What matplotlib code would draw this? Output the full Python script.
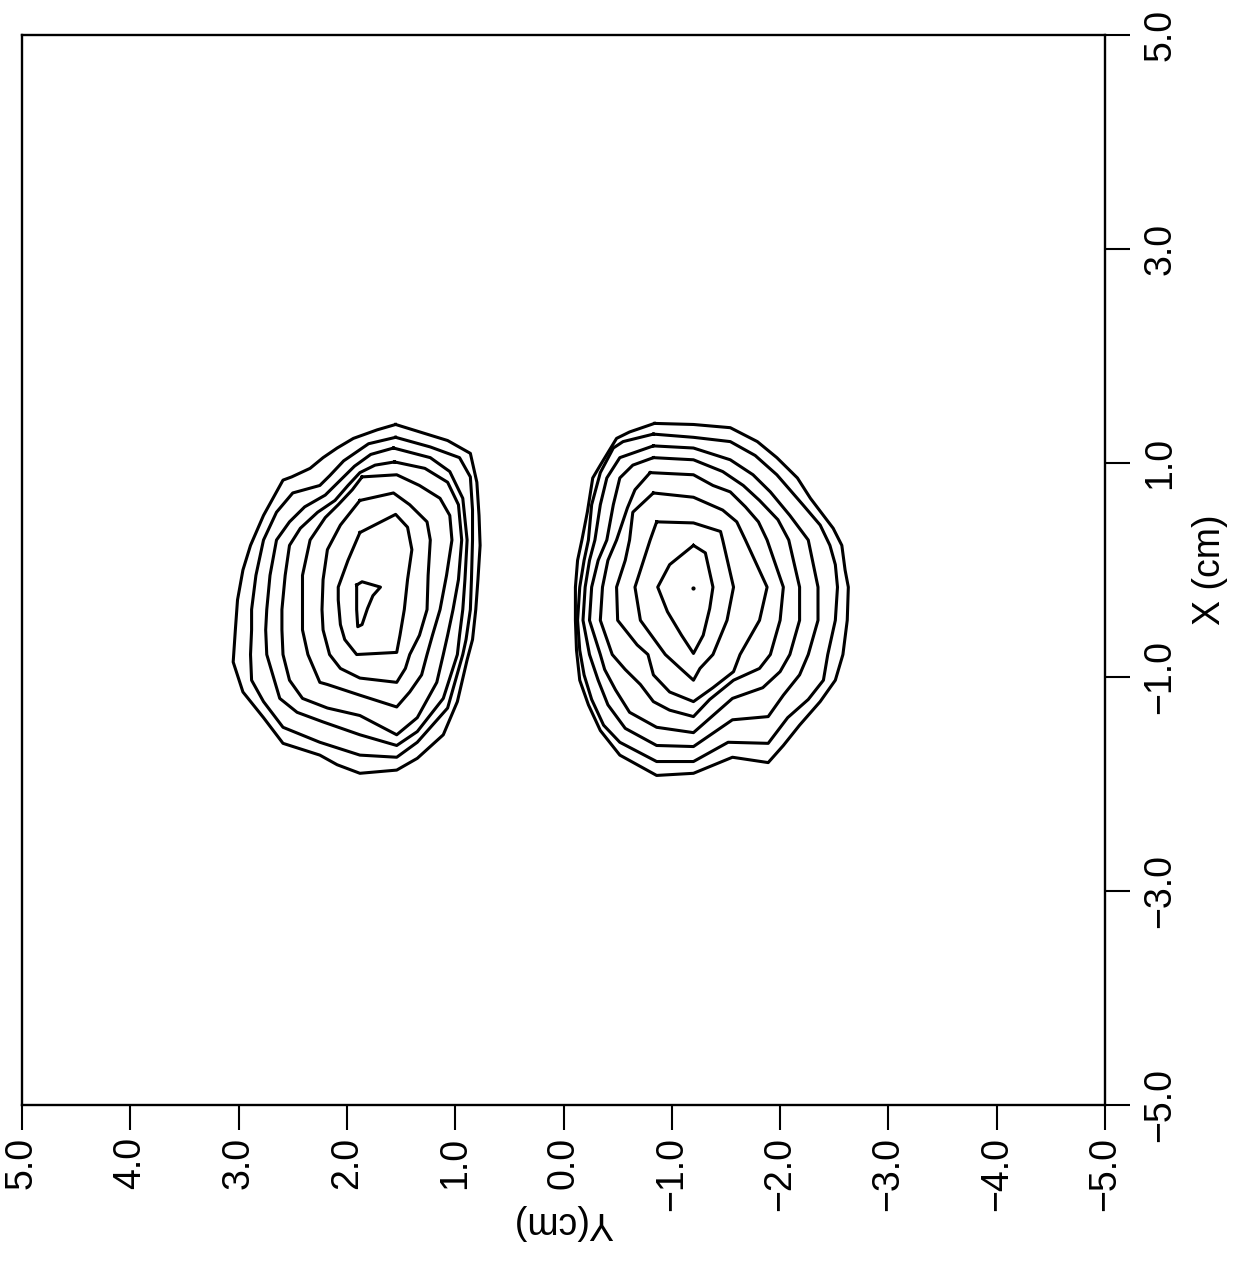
import matplotlib.pyplot as plt

# contour traces, (Y cm, X cm) pairs
left_c1 = [(1.55, 1.36), (1.07, 1.21), (0.86, 1.09), (0.80, 0.82), (0.78, 0.51), (0.77, 0.23),
           (0.79, -0.09), (0.81, -0.37), (0.84, -0.65), (0.89, -0.84), (0.98, -1.23), (1.11, -1.54),
           (1.35, -1.76), (1.54, -1.87), (1.88, -1.90), (2.09, -1.82), (2.25, -1.73), (2.59, -1.62),
           (2.77, -1.38), (2.96, -1.14), (3.05, -0.86), (3.03, -0.56), (3.01, -0.28), (2.96, 0.00),
           (2.89, 0.23), (2.77, 0.51), (2.59, 0.84), (2.51, 0.87), (2.34, 0.95), (2.22, 1.05),
           (2.09, 1.14), (1.94, 1.23), (1.72, 1.31)]
left_c2 = [(1.55, 1.24), (1.23, 1.15), (0.96, 1.05), (0.86, 0.87), (0.84, 0.56), (0.84, 0.28),
           (0.85, -0.09), (0.86, -0.37), (0.90, -0.65), (0.93, -0.79), (1.07, -1.29), (1.35, -1.61),
           (1.54, -1.75), (1.88, -1.73), (2.25, -1.61), (2.59, -1.47), (2.77, -1.23), (2.88, -1.03),
           (2.89, -0.79), (2.88, -0.56), (2.88, -0.37), (2.84, -0.05), (2.77, 0.28), (2.65, 0.54),
           (2.50, 0.72), (2.25, 0.79), (2.16, 0.88), (2.03, 1.02), (1.80, 1.18)]
left_c3 = [(1.57, 1.14), (1.23, 1.05), (1.05, 0.92), (0.93, 0.67), (0.89, 0.28), (0.91, -0.09),
           (0.93, -0.37), (0.96, -0.61), (0.98, -0.79), (1.11, -1.20), (1.35, -1.51), (1.54, -1.64),
           (1.88, -1.54), (2.22, -1.42), (2.46, -1.33), (2.62, -1.20), (2.74, -0.79), (2.75, -0.56),
           (2.74, -0.37), (2.71, -0.05), (2.65, 0.28), (2.53, 0.45), (2.39, 0.59), (2.20, 0.70),
           (2.06, 0.84), (1.93, 0.97), (1.78, 1.08)]
left_c4 = [(1.56, 1.01), (1.28, 0.95), (1.07, 0.82), (0.97, 0.61), (0.94, 0.28), (0.97, -0.09),
           (1.02, -0.37), (1.07, -0.61), (1.11, -0.79), (1.17, -1.05), (1.35, -1.38), (1.54, -1.54),
           (1.88, -1.36), (2.18, -1.29), (2.41, -1.20), (2.53, -1.03), (2.59, -0.79), (2.60, -0.56),
           (2.60, -0.37), (2.57, -0.05), (2.53, 0.23), (2.43, 0.39), (2.27, 0.54), (2.11, 0.65),
           (1.99, 0.79), (1.88, 0.91), (1.74, 0.98)]
left_c5 = [(1.86, 0.87), (1.54, 0.89), (1.33, 0.79), (1.14, 0.67), (1.05, 0.51), (1.03, 0.28),
           (1.08, -0.05), (1.14, -0.37), (1.21, -0.61), (1.26, -0.79), (1.31, -0.98), (1.42, -1.14),
           (1.54, -1.28), (1.88, -1.17), (2.18, -1.07), (2.25, -1.05), (2.36, -0.79), (2.41, -0.56),
           (2.41, -0.37), (2.41, -0.05), (2.34, 0.28), (2.20, 0.49), (2.08, 0.61), (1.95, 0.75)]
left_c6 = [(1.88, 0.65), (1.57, 0.72), (1.42, 0.61), (1.26, 0.45), (1.23, 0.28), (1.25, -0.05),
           (1.26, -0.37), (1.33, -0.61), (1.42, -0.79), (1.46, -0.92), (1.54, -1.05), (1.88, -1.01),
           (2.06, -0.92), (2.16, -0.79), (2.22, -0.56), (2.23, -0.37), (2.22, -0.09), (2.18, 0.19),
           (2.06, 0.42)]
left_c7 = [(1.88, 0.35), (1.55, 0.52), (1.44, 0.40), (1.40, 0.19), (1.44, -0.09), (1.47, -0.37),
           (1.51, -0.61), (1.54, -0.77), (1.91, -0.79), (2.02, -0.65), (2.06, -0.51), (2.08, -0.28),
           (2.08, -0.16), (1.99, 0.09)]
left_c8 = [(1.91, -0.14), (1.86, -0.11), (1.69, -0.16), (1.76, -0.24), (1.81, -0.36), (1.86, -0.51),
           (1.90, -0.53), (1.91, -0.37)]

right_c1 = [(-0.84, 1.37), (-1.20, 1.36), (-1.54, 1.33), (-1.79, 1.20), (-1.97, 1.05), (-2.16, 0.86),
            (-2.28, 0.67), (-2.49, 0.39), (-2.57, 0.23), (-2.60, 0.00), (-2.63, -0.16), (-2.62, -0.47),
            (-2.58, -0.79), (-2.51, -1.03), (-2.37, -1.23), (-2.18, -1.45), (-2.03, -1.64), (-1.89, -1.80),
            (-1.56, -1.75), (-1.20, -1.90), (-0.86, -1.92), (-0.52, -1.73), (-0.34, -1.50), (-0.23, -1.26),
            (-0.15, -1.03), (-0.12, -0.75), (-0.11, -0.47), (-0.11, -0.16), (-0.13, 0.09), (-0.17, 0.28),
            (-0.22, 0.54), (-0.27, 0.86), (-0.34, 0.98), (-0.49, 1.23), (-0.61, 1.29)]
right_c2 = [(-0.83, 1.27), (-1.20, 1.24), (-1.54, 1.20), (-1.77, 1.07), (-1.97, 0.89), (-2.21, 0.61),
            (-2.37, 0.42), (-2.46, 0.23), (-2.51, 0.05), (-2.53, -0.16), (-2.51, -0.47), (-2.44, -0.79),
            (-2.40, -1.03), (-2.26, -1.21), (-2.07, -1.38), (-1.89, -1.62), (-1.52, -1.61), (-1.20, -1.79),
            (-0.86, -1.79), (-0.52, -1.61), (-0.37, -1.45), (-0.26, -1.21), (-0.19, -0.98), (-0.15, -0.75),
            (-0.13, -0.47), (-0.15, -0.16), (-0.19, 0.09), (-0.23, 0.28), (-0.26, 0.61), (-0.34, 0.91),
            (-0.46, 1.14), (-0.55, 1.20)]
right_c3 = [(-0.83, 1.16), (-1.20, 1.14), (-1.54, 1.03), (-1.75, 0.89), (-1.91, 0.73), (-2.09, 0.51),
            (-2.26, 0.28), (-2.35, -0.16), (-2.35, -0.47), (-2.26, -0.79), (-2.18, -0.98), (-2.03, -1.17),
            (-1.89, -1.37), (-1.56, -1.40), (-1.20, -1.65), (-0.86, -1.64), (-0.57, -1.48), (-0.41, -1.26),
            (-0.32, -1.03), (-0.24, -0.79), (-0.18, -0.47), (-0.20, -0.16), (-0.24, 0.09), (-0.29, 0.28),
            (-0.34, 0.61), (-0.40, 0.86), (-0.52, 1.05)]
right_c4 = [(-0.83, 1.05), (-1.20, 1.03), (-1.47, 0.92), (-1.66, 0.79), (-1.81, 0.65), (-1.98, 0.47),
            (-2.08, 0.28), (-2.18, -0.16), (-2.18, -0.47), (-2.09, -0.79), (-2.00, -0.95), (-1.84, -1.10),
            (-1.56, -1.20), (-1.20, -1.52), (-0.86, -1.47), (-0.61, -1.33), (-0.48, -1.12), (-0.38, -0.93),
            (-0.34, -0.79), (-0.24, -0.47), (-0.26, -0.16), (-0.32, 0.09), (-0.40, 0.28), (-0.46, 0.61),
            (-0.52, 0.86), (-0.64, 0.98)]
right_c5 = [(-0.80, 0.91), (-1.20, 0.89), (-1.38, 0.79), (-1.54, 0.73), (-1.68, 0.59), (-1.80, 0.45),
            (-1.88, 0.28), (-2.03, -0.16), (-2.00, -0.47), (-1.91, -0.79), (-1.81, -0.92), (-1.57, -1.03),
            (-1.35, -1.21), (-1.20, -1.37), (-0.98, -1.31), (-0.83, -1.23), (-0.71, -1.07), (-0.57, -0.93),
            (-0.45, -0.79), (-0.34, -0.47), (-0.36, -0.16), (-0.41, 0.09), (-0.49, 0.28), (-0.59, 0.58),
            (-0.66, 0.75)]
right_c6 = [(-0.83, 0.72), (-1.20, 0.68), (-1.47, 0.56), (-1.60, 0.45), (-1.68, 0.28), (-1.88, -0.16),
            (-1.81, -0.47), (-1.63, -0.79), (-1.57, -0.95), (-1.38, -1.10), (-1.20, -1.23), (-0.98, -1.14),
            (-0.83, -0.98), (-0.78, -0.79), (-0.68, -0.70), (-0.50, -0.47), (-0.49, -0.16), (-0.57, 0.09),
            (-0.61, 0.28), (-0.64, 0.54)]
right_c7 = [(-0.86, 0.45), (-1.20, 0.44), (-1.45, 0.36), (-1.47, 0.28), (-1.57, -0.16), (-1.51, -0.47),
            (-1.38, -0.79), (-1.26, -0.92), (-1.20, -1.03), (-1.08, -0.92), (-0.94, -0.79), (-0.71, -0.47),
            (-0.66, -0.16), (-0.80, 0.28)]
right_c8 = [(-1.20, 0.23), (-1.31, 0.16), (-1.38, -0.16), (-1.35, -0.36), (-1.29, -0.61), (-1.20, -0.78),
            (-1.09, -0.61), (-0.96, -0.39), (-0.87, -0.16), (-0.98, 0.05)]
right_peak = (-1.20, -0.17)

contours = [left_c1, left_c2, left_c3, left_c4, left_c5, left_c6, left_c7, left_c8,
            right_c1, right_c2, right_c3, right_c4, right_c5, right_c6, right_c7, right_c8]

y_ticks = [5.0, 4.0, 3.0, 2.0, 1.0, 0.0, -1.0, -2.0, -3.0, -4.0, -5.0]
x_ticks = [5.0, 3.0, 1.0, -1.0, -3.0, -5.0]


def fmt(v):
    return f"{v:.1f}".replace("-", "\u2212")


plt.rcParams['font.family'] = ['Liberation Sans', 'DejaVu Sans']

fig = plt.figure(figsize=(12.37, 12.61), dpi=100)
ax = fig.add_axes([22 / 1237, 1 - 1105 / 1261, 1083 / 1237, 1070 / 1261])

for c in contours:
    ys = [p[0] for p in c] + [c[0][0]]
    xs = [p[1] for p in c] + [c[0][1]]
    ax.plot(ys, xs, color='black', lw=2.2, solid_joinstyle='round')
ax.plot(right_peak[0], right_peak[1], 'o', color='black', ms=2)

ax.set_xlim(5, -5)
ax.set_ylim(-5, 5)
ax.yaxis.tick_right()
ax.set_xticks(y_ticks, [fmt(v) for v in y_ticks])
ax.set_yticks(x_ticks, [fmt(v) for v in x_ticks])

ax.tick_params(axis='x', direction='out', length=18, width=1.5, pad=5,
               labelsize=27, labelrotation=90)
ax.tick_params(axis='y', direction='out', length=18, width=1.5, pad=9,
               labelsize=27, labelrotation=90)
for lab in ax.get_yticklabels():
    lab.set_va('center')

for s in ax.spines.values():
    s.set_linewidth(1.7)

ax.set_xlabel('Y(cm)', fontsize=27, rotation=180, va='center')
ax.xaxis.set_label_coords(0.5, -0.1093)
ax.yaxis.set_label_position('right')
ax.set_ylabel('X (cm)', fontsize=27, rotation=90, va='center')
ax.yaxis.set_label_coords(1.097, 0.5)

plt.savefig('out.png', dpi=100)
